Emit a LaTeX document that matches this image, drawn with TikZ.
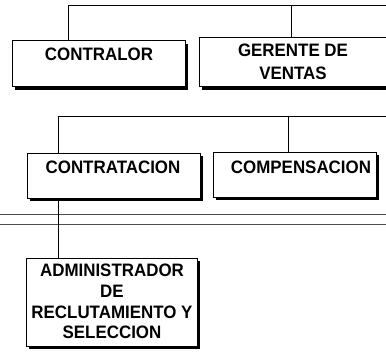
\documentclass[tikz,border=0pt]{standalone}
\usepackage{fontspec}
\setmainfont{Liberation Sans}[FakeStretch=0.94]
\usetikzlibrary{shadows}
\begin{document}
\begin{tikzpicture}[x=1pt,y=-1pt,
  orgbox/.style={draw=black, line width=1pt, fill=white, rectangle, anchor=north west,
    inner sep=0pt, outer sep=0pt,
    drop shadow={shadow xshift=3pt, shadow yshift=-3pt, fill=black, opacity=1}},
  lbl/.style={font=\bfseries\fontsize{18}{20.7}\selectfont, align=center, inner sep=0pt, anchor=north},
  conn/.style={line width=1pt, draw=black},
  rule/.style={line width=0.9pt, draw=black!70}]
\useasboundingbox (0,0) rectangle (386,353);
% boxes
\node[orgbox, minimum width=173pt, minimum height=46pt] (b1) at (12,41) {};
\node[orgbox, minimum width=195pt, minimum height=49pt] (b2) at (199,38) {};
\node[orgbox, minimum width=173pt, minimum height=45pt] (b3) at (27,153) {};
\node[orgbox, minimum width=163pt, minimum height=45pt] (b4) at (213,152) {};
\node[orgbox, minimum width=171pt, minimum height=88pt] (b5) at (26,258) {};
% labels
\node[lbl] (contralor) at (99,48) {CONTRALOR};
\node[lbl, font=\bfseries\fontsize{18}{23}\selectfont] (gerente) at (293,44) {GERENTE DE\\VENTAS};
\node[lbl] (contratacion) at (113,161) {CONTRATACION};
\node[lbl] (compensacion) at (301,161) {COMPENSACION};
\node[lbl] (admin) at (112,264) {ADMINISTRADOR\\DE\\RECLUTAMIENTO Y\\SELECCION};
% level 1 connectors
\coordinate (t1) at (68,6);
\coordinate (t2) at (291,6);
\coordinate (tend) at (390,6);
\draw[conn] (tend) -- (t1) -- (t1 |- b1.north);
\draw[conn] (t2) -- (t2 |- b2.north);
% level 2 connectors
\coordinate (s1) at (58,117);
\coordinate (s2) at (288,117);
\coordinate (send) at (390,117);
\draw[conn] (send) -- (s1) -- (s1 |- b3.north);
\draw[conn] (s2) -- (s2 |- b4.north);
% separator double rule
\coordinate (r1a) at (0,214);
\coordinate (r1b) at (390,214);
\coordinate (r2a) at (0,224);
\coordinate (r2b) at (390,224);
\draw[rule] (r1a) -- (r1b);
\draw[rule] (r2a) -- (r2b);
% level 3 connector
\coordinate (u1) at (58,198);
\draw[conn] (u1) -- (u1 |- b5.north);
\end{tikzpicture}
\end{document}
